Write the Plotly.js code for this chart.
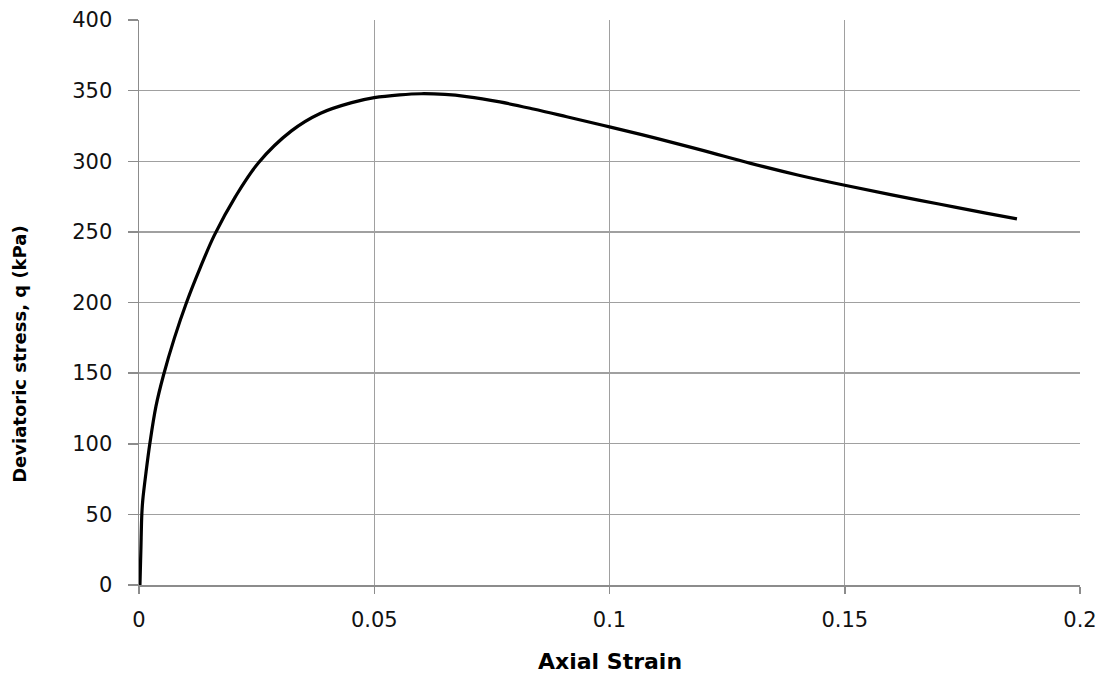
<!DOCTYPE html>
<html>
<head>
<meta charset="utf-8">
<script src="https://cdn.plot.ly/plotly-3.0.1.min.js"></script>
<style>html,body{margin:0;padding:0;background:#fff;}#chart{width:1113px;height:677px;}</style>
</head>
<body>
<div id="chart"></div>
<script>
const axialStrain = [0.0002, 0.0004, 0.0006, 0.0008, 0.0015, 0.0023, 0.0036, 0.0052, 0.0075, 0.0101, 0.0130, 0.0160, 0.0205, 0.0254, 0.0324, 0.0386, 0.0452, 0.0500, 0.0554, 0.0600, 0.0650, 0.0696, 0.0767, 0.0838, 0.0909, 0.1000, 0.1100, 0.1200, 0.1300, 0.1400, 0.1500, 0.1600, 0.1700, 0.1800, 0.1866];
const deviatoricStress = [0, 25, 50, 60, 80, 100, 126.5, 148.5, 174.6, 200, 224.5, 247.5, 275, 299, 321.5, 334, 341.5, 345, 347, 347.8, 347.3, 345.8, 342, 337, 331.5, 324.3, 316.2, 307.5, 298.5, 290.3, 283, 276.2, 269.7, 263.3, 259.2];
const xTicks = [0, 0.05, 0.1, 0.15, 0.2];
const xTickLabels = ["0", "0.05", "0.1", "0.15", "0.2"];
const yTicks = [0, 50, 100, 150, 200, 250, 300, 350, 400];
const xTitle = 'Axial Strain';
const yTitle = 'Deviatoric stress, q (kPa)';

const FAM = 'DejaVu Sans, Arial, sans-serif';
const trace = {
  x: axialStrain, y: deviatoricStress, type: 'scatter', mode: 'lines',
  line: {color: '#000', width: 3.2, shape: 'spline', smoothing: 1.0},
  hoverinfo: 'skip'
};
const layout = {
  width: 1113, height: 677,
  margin: {l: 139, r: 33, t: 20, b: 92},
  paper_bgcolor: '#fff', plot_bgcolor: '#fff',
  showlegend: false,
  font: {family: FAM, size: 21, color: '#000'},
  xaxis: {
    range: [0, 0.2], tickvals: xTicks, ticktext: xTickLabels,
    showgrid: true, gridcolor: '#a0a0a0', gridwidth: 1.3,
    showline: true, linecolor: '#8c8c8c', linewidth: 1.5,
    zeroline: false, ticks: 'outside', ticklen: 7, tickcolor: '#8c8c8c', tickwidth: 1.5,
    tickfont: {family: FAM, size: 21, color: '#111'}, ticklabelstandoff: 8
  },
  yaxis: {
    range: [0, 400], tickvals: yTicks,
    showgrid: true, gridcolor: '#a0a0a0', gridwidth: 1.3,
    showline: true, linecolor: '#8c8c8c', linewidth: 1.5,
    zeroline: false, ticks: 'outside', ticklen: 10, tickcolor: '#8c8c8c', tickwidth: 1.5,
    tickfont: {family: FAM, size: 21, color: '#111'}, ticklabelstandoff: 11
  },
  annotations: [
    {text: '<b>' + xTitle + '</b>', xref: 'paper', yref: 'paper', x: 0.5, y: -0.135,
     xanchor: 'center', yanchor: 'middle', showarrow: false,
     font: {family: FAM, size: 22, color: '#000'}},
    {text: '<b>' + yTitle + '</b>', xref: 'paper', yref: 'paper', x: -0.127, y: 0.41,
     xanchor: 'center', yanchor: 'middle', showarrow: false, textangle: -90,
     font: {family: FAM, size: 18, color: '#000'}}
  ]
};
Plotly.newPlot('chart', [trace], layout, {staticPlot: true, displayModeBar: false});
</script>
</body>
</html>
